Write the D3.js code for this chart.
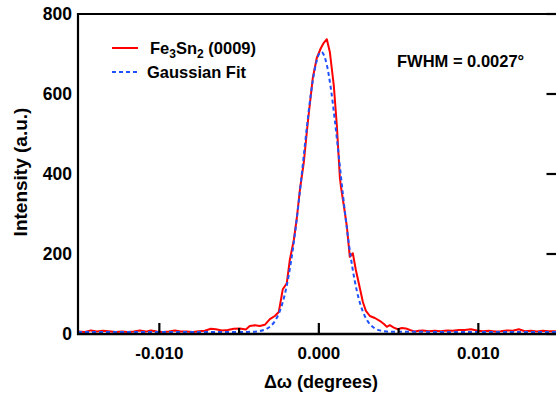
<!DOCTYPE html>
<html><head><meta charset="utf-8">
<script src="https://cdn.jsdelivr.net/npm/d3@7"></script>
<style>
body{margin:0;background:#fff;}
svg{display:block;font-family:"Liberation Sans",Arial,sans-serif;font-weight:bold;}
</style></head>
<body><svg id="c" width="556" height="393"></svg>
<script>
// Measured data (Δω in degrees, intensity in a.u.)
const measX = [-0.01511,-0.01467,-0.01429,-0.01392,-0.01354,-0.01317,-0.01273,-0.01235,-0.01197,-0.01160,
 -0.01122,-0.01085,-0.01053,-0.01016,-0.00978,-0.00940,-0.00903,-0.00865,-0.00828,-0.00790,
 -0.00752,-0.00715,-0.00677,-0.00646,-0.00608,-0.00571,-0.00533,-0.00495,-0.00458,-0.00433,
 -0.00401,-0.00370,-0.00339,-0.00307,-0.00276,-0.00251,-0.00226,-0.00201,-0.00182,-0.00157,
 -0.00138,-0.00119,-0.00094,-0.00069,-0.00038,-0.00013,0.00013,0.00031,0.00050,0.00069,
 0.00094,0.00113,0.00132,0.00138,0.00157,0.00176,0.00194,0.00213,0.00232,0.00257,
 0.00276,0.00295,0.00320,0.00351,0.00382,0.00408,0.00426,0.00445,0.00470,0.00495,
 0.00520,0.00545,0.00571,0.00602,0.00627,0.00652,0.00690,0.00727,0.00765,0.00803,
 0.00840,0.00878,0.00915,0.00953,0.00991,0.01028,0.01066,0.01103,0.01141,0.01179,
 0.01216,0.01254,0.01292,0.01329,0.01367,0.01404,0.01442,0.01486];
const measY = [6,5,9,6,8,7,5,6,5,6,
 9,6,9,6,5,6,9,6,6,5,
 7,8,13,12,9,10,13,14,11,20,
 22,20,23,37,45,55,112,127,185,235,
 290,360,430,530,640,690,715,728,737,705,
 620,520,390,370,320,268,193,202,160,115,
 80,58,45,40,33,25,18,22,16,12,
 15,14,10,6,8,9,7,8,7,9,
 8,10,10,12,9,7,8,6,7,9,
 8,12,7,8,6,8,7,7];
// Gaussian fit curve values
const fitX = [-0.0151,-0.0045,-0.004,-0.00375,-0.0035,-0.00325,-0.003,-0.00275,-0.0025,-0.00225,
 -0.002,-0.00175,-0.0015,-0.00125,-0.001,-0.00075,-0.0005,-0.00025,0,0.00015,0.00025,
 0.0005,0.00075,0.001,0.00125,0.0015,0.00175,0.002,0.00225,0.0025,0.00275,
 0.003,0.00325,0.0035,0.00375,0.004,0.00425,0.0045,0.0149];
const fitY = [5,5.3,5.9,7.0,9.2,13.2,20.4,32.5,52.0,81.3,
 123.2,179.6,250.8,334.4,425.8,517.5,600,663,699,705,702.3,
 672.8,614.5,535,444.6,352,266.3,192.6,133.2,88.6,56.9,
 35.7,22.4,14.3,9.8,7.3,6.1,5.5,5];
const xTicks = [-0.010,0.000,0.010];
const xTickLabels = ["-0.010","0.000","0.010"];
const xMinor = [-0.005,0.005];
const yTicks = [0,200,400,600,800];
const legendLabels = ["Fe3Sn2 (0009)","Gaussian Fit"];
const annotation = "FWHM = 0.0027°";

const svg = d3.select("#c");
const x = d3.scaleLinear().domain([-0.0151,0.0149]).range([78,556.5]);
const y = d3.scaleLinear().domain([0,800]).range([334,14]);
const L=78, R=556.5, T=14, B=334;

// curves
const line = d3.line().x(d=>x(d[0])).y(d=>y(d[1]));
svg.append("path").datum(measX.map((v,i)=>[v,measY[i]]))
  .attr("d",line).attr("fill","none").attr("stroke","#ff0000")
  .attr("stroke-width",2).attr("stroke-linejoin","round");
svg.append("path").datum(fitX.map((v,i)=>[v,fitY[i]]))
  .attr("d",d3.line().x(d=>x(d[0])).y(d=>y(d[1])).curve(d3.curveMonotoneX))
  .attr("fill","none").attr("stroke","#1f52ff")
  .attr("stroke-width",2).attr("stroke-dasharray","4,3");

// frame
const ax = svg.append("g").attr("stroke","#000").attr("fill","none");
ax.append("line").attr("x1",L).attr("x2",L).attr("y1",T-1).attr("y2",B+1).attr("stroke-width",2.2);
ax.append("line").attr("x1",L-1).attr("x2",R).attr("y1",B).attr("y2",B).attr("stroke-width",2.4);
ax.append("line").attr("x1",L-1).attr("x2",R).attr("y1",T).attr("y2",T).attr("stroke-width",2.2);

// bottom axis ticks (inward)
const gx = svg.append("g");
xTicks.forEach((t,i)=>{
  gx.append("line").attr("x1",x(t)).attr("x2",x(t)).attr("y1",B).attr("y2",B-11)
    .attr("stroke","#000").attr("stroke-width",2.2);
  gx.append("text").attr("x",x(t)).attr("y",B+25).attr("text-anchor","middle")
    .attr("font-size",17).text(xTickLabels[i]);
});
xMinor.forEach(t=>{
  gx.append("line").attr("x1",x(t)).attr("x2",x(t)).attr("y1",B).attr("y2",B-6)
    .attr("stroke","#000").attr("stroke-width",2.2);
});
// y labels
const gy = svg.append("g");
yTicks.forEach(t=>{
  gy.append("text").attr("x",72).attr("y",y(t)+6).attr("text-anchor","end")
    .attr("font-size",17.5).text(t);
  gy.append("line").attr("x1",R-10).attr("x2",R).attr("y1",y(t)).attr("y2",y(t))
    .attr("stroke","#000").attr("stroke-width",2.2);
});

// axis titles
svg.append("text").attr("transform","translate(27,172) rotate(-90)")
  .attr("text-anchor","middle").attr("font-size",19).text("Intensity (a.u.)");
svg.append("text").attr("x",321).attr("y",388).attr("text-anchor","middle")
  .attr("font-size",18).text("\u0394\u03c9 (degrees)");

// legend
const lg = svg.append("g");
lg.append("line").attr("x1",112).attr("x2",138).attr("y1",48).attr("y2",48)
  .attr("stroke","#ff0000").attr("stroke-width",2);
lg.append("line").attr("x1",112).attr("x2",138).attr("y1",72).attr("y2",72)
  .attr("stroke","#1f52ff").attr("stroke-width",2).attr("stroke-dasharray","4,3");
const t1 = lg.append("text").attr("x",150).attr("y",54).attr("font-size",16.5);
t1.append("tspan").text("Fe");
t1.append("tspan").attr("font-size",12).attr("dy",4).text("3");
t1.append("tspan").attr("dy",-4).text("Sn");
t1.append("tspan").attr("font-size",12).attr("dy",4).text("2");
t1.append("tspan").attr("dy",-4).text(" (0009)");
lg.append("text").attr("x",147).attr("y",78).attr("font-size",16.5).text(legendLabels[1]);

svg.append("text").attr("x",397).attr("y",67).attr("font-size",16.5).text(annotation);
</script></body></html>
